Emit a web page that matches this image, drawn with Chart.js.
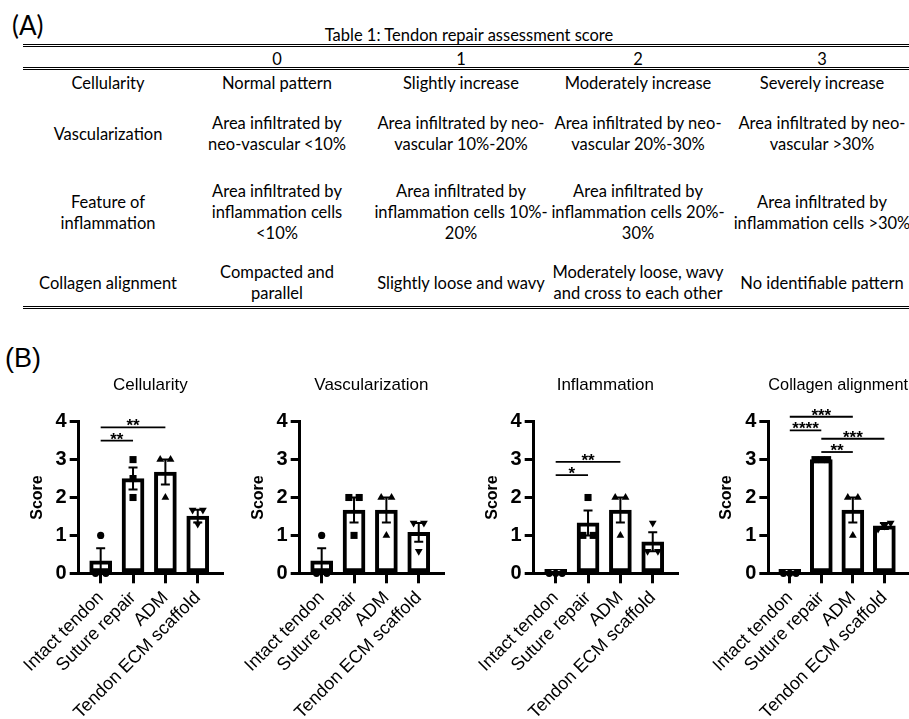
<!DOCTYPE html>
<html>
<head>
<meta charset="utf-8">
<script src="https://cdn.jsdelivr.net/npm/chart.js@4.4.1/dist/chart.umd.min.js"></script>
<style>
  body { margin: 0; background: #fff; }
  #page { position: relative; width: 909px; height: 719px; overflow: hidden; color: #000; }
  .panel-label { position: absolute; }
  #lblA { left: 12px; top: 9px; font: 26px Lato, sans-serif; }
  #lblB { left: 5px; top: 343px; font: 27px 'Liberation Sans', Arial, sans-serif; }
  #tableTitle { position: absolute; left: 23px; width: 892px; top: 25px; line-height: 20px;
    text-align: center; font: 16.5px Lato, sans-serif; }
  .rule { position: absolute; left: 23px; width: 900px; height: 0; border-top: 3px double #000; }
  #scoreTable { position: absolute; left: 23px; top: 46px; width: 906px; border-collapse: collapse;
    table-layout: fixed; font: 16.5px Lato, sans-serif; line-height: 21px; }
  #scoreTable td { padding: 0; vertical-align: middle; }
  #scoreTable tr.head td { padding-top: 4px; line-height: 17px; }
  #scoreTable td div { display: flex; justify-content: center; white-space: nowrap; text-align: center; }
  canvas { position: absolute; top: 330px; }
</style>
</head>
<body>
<div id="page">
  <div id="lblA" class="panel-label">(A)</div>
  <div id="tableTitle">Table 1: Tendon repair assessment score</div>
  <div class="rule" style="top:44px"></div>
  <div class="rule" style="top:67px"></div>
  <div class="rule" style="top:306px"></div>
  <table id="scoreTable">
    <colgroup><col style="width:170px"><col style="width:168px"><col style="width:200px"><col style="width:154px"><col style="width:214px"></colgroup>
    <tr class="head" style="height:22px"><td></td><td><div>0</div></td><td><div>1</div></td><td><div>2</div></td><td><div>3</div></td></tr>
    <tr style="height:30px">
      <td><div>Cellularity</div></td><td><div>Normal pattern</div></td><td><div>Slightly increase</div></td>
      <td><div>Moderately increase</div></td><td><div>Severely increase</div></td>
    </tr>
    <tr style="height:72px">
      <td><div>Vascularization</div></td>
      <td><div>Area infiltrated by<br>neo-vascular &lt;10%</div></td>
      <td><div>Area infiltrated by neo-<br>vascular 10%-20%</div></td>
      <td><div>Area infiltrated by neo-<br>vascular 20%-30%</div></td>
      <td><div>Area infiltrated by neo-<br>vascular &gt;30%</div></td>
    </tr>
    <tr style="height:85px">
      <td><div>Feature of<br>inflammation</div></td>
      <td><div>Area infiltrated by<br>inflammation cells<br>&lt;10%</div></td>
      <td><div>Area infiltrated by<br>inflammation cells 10%-<br>20%</div></td>
      <td><div>Area infiltrated by<br>inflammation cells 20%-<br>30%</div></td>
      <td><div>Area infiltrated by<br>inflammation cells &gt;30%</div></td>
    </tr>
    <tr style="height:56px">
      <td><div>Collagen alignment</div></td>
      <td><div>Compacted and<br>parallel</div></td>
      <td><div>Slightly loose and wavy</div></td>
      <td><div>Moderately loose, wavy<br>and cross to each other</div></td>
      <td><div>No identifiable pattern</div></td>
    </tr>
  </table>
  <div id="lblB" class="panel-label">(B)</div>
</div>
<script>
const groups = ['Intact tendon', 'Suture repair', 'ADM', 'Tendon ECM scaffold'];
const scoreTicks = [0, 1, 2, 3, 4];

const cellMean = [0.33, 2.5, 2.67, 1.51];
const cellSem = [0.33, 0.29, 0.33, 0.17];
const cellPoints = [[1, 0, 0], [3, 2.5, 2], [3, 3, 2], [1.67, 1.67, 1.3]];
const cellSig = [[0, 1, 3.5, '**'], [0, 2, 3.85, '**']];

const vascMean = [0.33, 1.67, 1.67, 1.08];
const vascSem = [0.33, 0.33, 0.33, 0.25];
const vascPoints = [[1, 0, 0], [2, 2, 1], [2, 2, 1], [1.33, 1.33, 0.58]];
const vascSig = [];

const inflamMean = [0, 1.33, 1.67, 0.83];
const inflamSem = [0, 0.33, 0.33, 0.25];
const inflamPoints = [[0, 0, 0], [2, 1, 1], [2, 2, 1], [1.33, 0.58, 0.58]];
const inflamSig = [[0, 1, 2.59, '*'], [0, 2, 2.94, '**']];

const collMean = [0, 3, 1.67, 1.25];
const collSem = [0, 0, 0.33, 0.08];
const collPoints = [[0, 0, 0], [3, 3, 3], [2, 2, 1], [1.33, 1.25, 1.17]];
const collSig = [[0, 2, 4.13, '***'], [0, 1, 3.77, '****'], [1, 3, 3.55, '***'], [1, 2, 3.2, '**']];

const panels = [
  { title: 'Cellularity', mean: cellMean, sem: cellSem, pts: cellPoints, sig: cellSig },
  { title: 'Vascularization', mean: vascMean, sem: vascSem, pts: vascPoints, sig: vascSig },
  { title: 'Inflammation', mean: inflamMean, sem: inflamSem, pts: inflamPoints, sig: inflamSig },
  { title: 'Collagen alignment', mean: collMean, sem: collSem, pts: collPoints, sig: collSig }
];

// layout of the four plots (px)
const axisLeft = [69, 290, 524, 758];
const plotWidth = [153, 153, 153, 150];
const yAxisW = 56;
const symbols = ['circle', 'rect', 'triangle', 'triangle'];
const symbolRot = [0, 0, 0, 180];
const symbolSize = [3.6, 5, 4.5, 4.5];

Chart.defaults.font.family = "'Liberation Sans', Arial, sans-serif";
Chart.defaults.color = '#000';

// side-by-side offsets for points that would overlap
function spread(vals) {
  const order = vals.map((v, k) => k).sort((a, b) => vals[a] - vals[b]);
  const dx = vals.map(() => 0);
  let run = [order[0]];
  const flush = () => {
    const step = run.length === 2 ? 0.32 : 0.2;
    run.forEach((k, n) => { dx[k] = (n - (run.length - 1) / 2) * step; });
  };
  for (let i = 1; i < order.length; i++) {
    if (vals[order[i]] - vals[order[i - 1]] < 0.2) run.push(order[i]);
    else { flush(); run = [order[i]]; }
  }
  flush();
  return dx;
}

function makeChart(p, idx) {
  const cv = document.createElement('canvas');
  const w = yAxisW + plotWidth[idx] + 10;
  cv.width = w; cv.height = 389;
  cv.style.left = (axisLeft[idx] - yAxisW) + 'px';
  cv.style.width = w + 'px'; cv.style.height = '389px';
  document.getElementById('page').appendChild(cv);

  const errorBars = {
    id: 'errorBars',
    afterDatasetDraw(chart, args) {
      if (args.index !== 0) return;
      const { ctx, scales: { x, y } } = chart;
      ctx.save();
      ctx.strokeStyle = '#000';
      ctx.lineWidth = 2;
      p.sem.forEach((s, i) => {
        if (!s) return;
        const px = x.getPixelForValue(i);
        const hi = y.getPixelForValue(p.mean[i] + s);
        const lo = y.getPixelForValue(p.mean[i] - s);
        ctx.beginPath();
        ctx.moveTo(px, hi); ctx.lineTo(px, lo);
        ctx.moveTo(px - 4.5, hi); ctx.lineTo(px + 4.5, hi);
        ctx.moveTo(px - 4.5, lo); ctx.lineTo(px + 4.5, lo);
        ctx.stroke();
      });
      ctx.restore();
    }
  };

  const brackets = {
    id: 'brackets',
    afterDraw(chart) {
      const { ctx, scales: { x, y } } = chart;
      ctx.save();
      ctx.strokeStyle = '#000';
      ctx.fillStyle = '#000';
      ctx.lineWidth = 1.8;
      ctx.font = "bold 17px 'Liberation Sans', Arial, sans-serif";
      ctx.textAlign = 'center';
      ctx.textBaseline = 'alphabetic';
      p.sig.forEach(([a, b, level, label]) => {
        const x1 = x.getPixelForValue(a), x2 = x.getPixelForValue(b);
        const py = y.getPixelForValue(level);
        ctx.beginPath();
        ctx.moveTo(x1, py); ctx.lineTo(x2, py);
        ctx.stroke();
        ctx.fillText(label, (x1 + x2) / 2, py + 4);
      });
      ctx.restore();
    }
  };

  const scatterSets = p.pts.map((vals, g) => {
    const dx = spread(vals);
    return {
      type: 'scatter',
      data: vals.map((v, k) => ({ x: g + dx[k], y: v })),
      pointStyle: symbols[g],
      rotation: symbolRot[g],
      pointRadius: symbolSize[g],
      backgroundColor: '#000',
      borderColor: '#000',
      borderWidth: 0,
      order: 0,
      clip: false
    };
  });

  return new Chart(cv, {
    type: 'bar',
    data: {
      datasets: [{
        type: 'bar',
        data: p.mean.map((m, i) => ({ x: i, y: m })),
        backgroundColor: '#fff',
        borderColor: '#000',
        borderWidth: 4,
        borderSkipped: false,
        barThickness: 22,
        minBarLength: 4,
        order: 1,
        clip: false
      }, ...scatterSets]
    },
    options: {
      responsive: false,
      animation: false,
      devicePixelRatio: 1,
      layout: { padding: { top: 45, right: 10, left: 0, bottom: 0 } },
      plugins: {
        legend: { display: false },
        tooltip: { enabled: false },
        title: {
          display: true, text: p.title, fullSize: false, color: '#000',
          font: { size: 17, weight: 'normal' }, padding: { top: 0, bottom: 26.3 }
        }
      },
      scales: {
        x: {
          type: 'linear', min: -0.68, max: 3.75, offset: false,
          afterBuildTicks: s => { s.ticks = groups.map((_, i) => ({ value: i })); },
          afterFit: s => { s.height = 145.7; },
          grid: { display: true, drawOnChartArea: false, drawTicks: true, tickLength: 10, lineWidth: 3, color: '#000', offset: false },
          border: { display: true, width: 3, color: '#000' },
          ticks: {
            autoSkip: false, minRotation: 45, maxRotation: 45, padding: 4, color: '#000',
            font: { size: 18 }, callback: v => groups[v]
          }
        },
        y: {
          min: 0, max: 4,
          afterBuildTicks: s => { s.ticks = scoreTicks.map(v => ({ value: v })); },
          afterFit: s => { s.width = yAxisW; },
          grid: { display: true, drawOnChartArea: false, drawTicks: true, tickLength: 9, lineWidth: 3, color: '#000' },
          border: { display: true, width: 3, color: '#000' },
          ticks: { padding: 3, color: '#000', font: { size: 20, weight: 'bold' }, callback: v => v },
          title: {
            display: true, text: 'Score', color: '#000',
            font: { size: 16, weight: 'bold' }, padding: { top: 5, bottom: 0 }
          }
        }
      }
    },
    plugins: [errorBars, brackets]
  });
}

panels.forEach(makeChart);
</script>
</body>
</html>
